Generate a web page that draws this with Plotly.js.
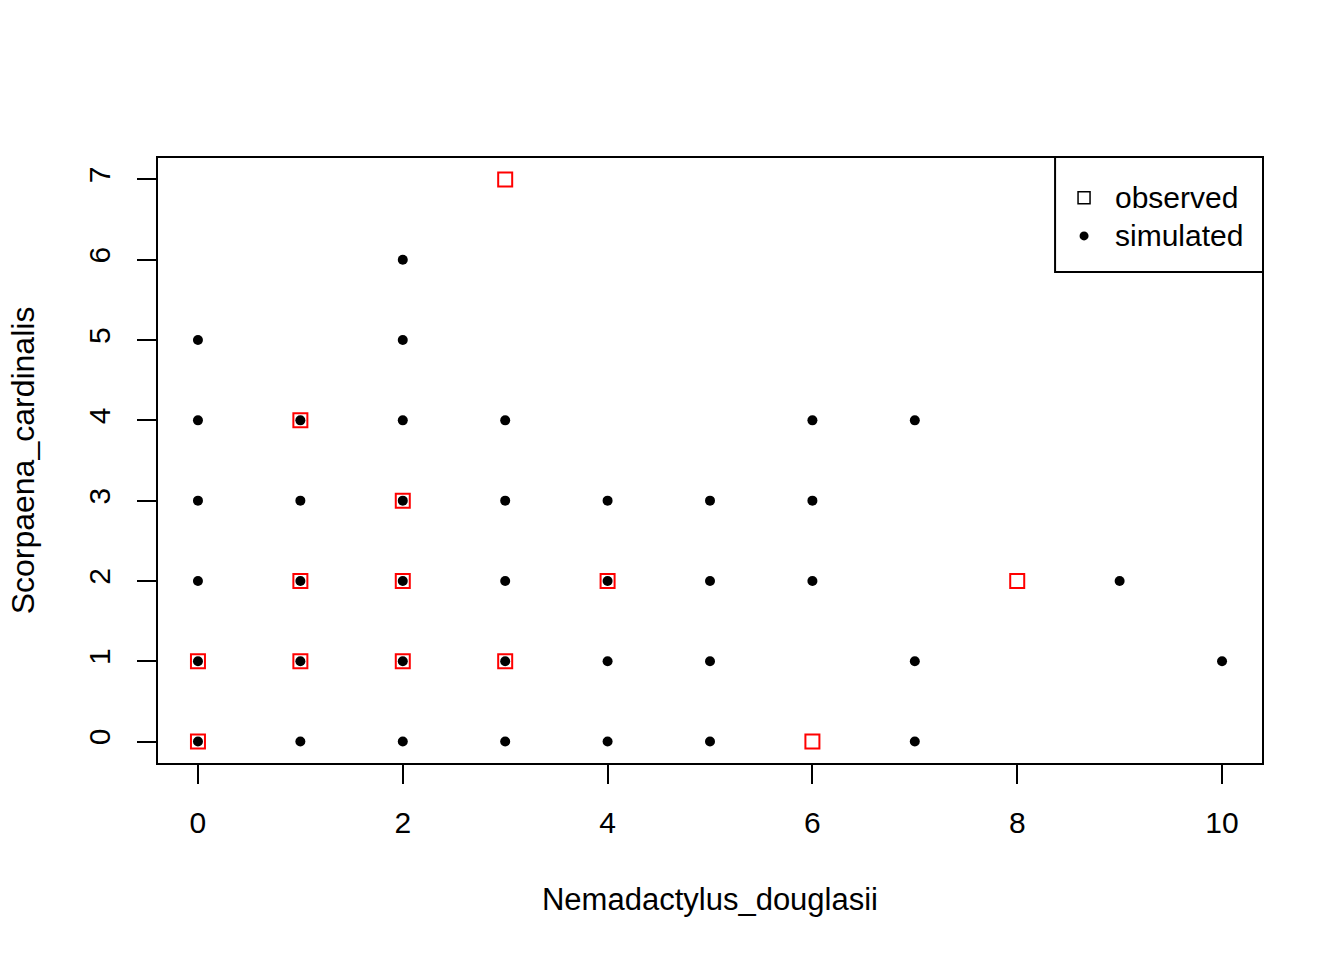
<!DOCTYPE html>
<html>
<head>
<meta charset="utf-8">
<script src="https://cdn.plot.ly/plotly-3.0.1.min.js"></script>
<style>html,body{margin:0;padding:0;background:#fff;}#chart{width:1344px;height:960px;}</style>
</head>
<body>
<div id="chart"></div>
<script>
// simulated (black dots)
const simX = [0,0,0,0,0,0, 1,1,1,1,1, 2,2,2,2,2,2,2, 3,3,3,3,3, 4,4,4,4, 5,5,5,5, 6,6,6, 7,7,7, 9, 10];
const simY = [0,1,2,3,4,5, 0,1,2,3,4, 0,1,2,3,4,5,6, 0,1,2,3,4, 0,1,2,3, 0,1,2,3, 2,3,4, 0,1,4, 2, 1];
// observed (red open squares)
const obsX = [0,0,1,1,1,2,2,2,3,3,4,6,8];
const obsY = [0,1,1,2,4,1,2,3,1,7,2,0,2];
const xTicks = [0,2,4,6,8,10];
const yTicks = [0,1,2,3,4,5,6,7];
const xLabel = "Nemadactylus_douglasii";
const yLabel = "Scorpaena_cardinalis";
const legendNames = ["observed","simulated"];

const FONT = "Liberation Sans, Arial, sans-serif";

const traces = [
  {x: obsX, y: obsY, type: "scatter", mode: "markers", name: legendNames[0], showlegend: false,
   marker: {symbol: "square-open", size: 14, color: "#FF0000", line: {width: 2, color: "#FF0000"}}},
  {x: simX, y: simY, type: "scatter", mode: "markers", name: legendNames[1], showlegend: false,
   marker: {symbol: "circle", size: 10, color: "#000000"}}
];

// legend geometry (paper coords)
const lgX0 = 0.812, lgY0 = 0.8105;
const symX = 0.8382, textX = 0.8644;
const row1 = 0.933, row2 = 0.870;

const layout = {
  width: 1344, height: 960,
  margin: {l: 157, r: 81, t: 157, b: 196},
  paper_bgcolor: "#ffffff", plot_bgcolor: "#ffffff",
  showlegend: false,
  font: {family: FONT, size: 30, color: "#000"},
  xaxis: {
    range: [-0.4, 10.4], tickvals: xTicks, ticktext: xTicks.map(String),
    showgrid: false, zeroline: false, showline: false,
    ticks: "outside", ticklen: 19, tickwidth: 2, tickcolor: "#000",
    ticklabelstandoff: 13,
    tickfont: {family: FONT, size: 30, color: "#000"},
    title: {text: xLabel, font: {family: FONT, size: 31, color: "#000"}, standoff: 50}
  },
  yaxis: {
    range: [-0.28, 7.28], tickvals: yTicks, ticktext: yTicks.map(String),
    showgrid: false, zeroline: false, showline: false,
    ticks: "outside", ticklen: 19, tickwidth: 2, tickcolor: "#000",
    ticklabelstandoff: 15,
    tickangle: -90,
    tickfont: {family: FONT, size: 30, color: "#000"},
    title: {text: yLabel, font: {family: FONT, size: 32, color: "#000"}, standoff: 38}
  },
  shapes: [
    {type: "rect", xref: "paper", yref: "paper", x0: 0, x1: 1, y0: 0, y1: 1,
     line: {color: "#000", width: 2}, fillcolor: "rgba(0,0,0,0)"},
    {type: "rect", xref: "paper", yref: "paper", x0: lgX0, x1: 1, y0: lgY0, y1: 1,
     line: {color: "#000", width: 2}, fillcolor: "#fff"},
    {type: "rect", xref: "paper", yref: "paper", xsizemode: "pixel", ysizemode: "pixel",
     xanchor: symX, yanchor: row1, x0: -6, x1: 6, y0: -6, y1: 6,
     line: {color: "#000", width: 1.5}, fillcolor: "rgba(0,0,0,0)"},
    {type: "circle", xref: "paper", yref: "paper", xsizemode: "pixel", ysizemode: "pixel",
     xanchor: symX, yanchor: row2, x0: -4.5, x1: 4.5, y0: -4.5, y1: 4.5,
     line: {color: "#000", width: 0}, fillcolor: "#000"}
  ],
  annotations: [
    {xref: "paper", yref: "paper", x: textX, y: row1, xanchor: "left", yanchor: "middle",
     text: legendNames[0], showarrow: false, font: {family: FONT, size: 30, color: "#000"}},
    {xref: "paper", yref: "paper", x: textX, y: row2, xanchor: "left", yanchor: "middle",
     text: legendNames[1], showarrow: false, font: {family: FONT, size: 30, color: "#000"}}
  ]
};

Plotly.newPlot("chart", traces, layout, {displayModeBar: false, staticPlot: true});
</script>
</body>
</html>
